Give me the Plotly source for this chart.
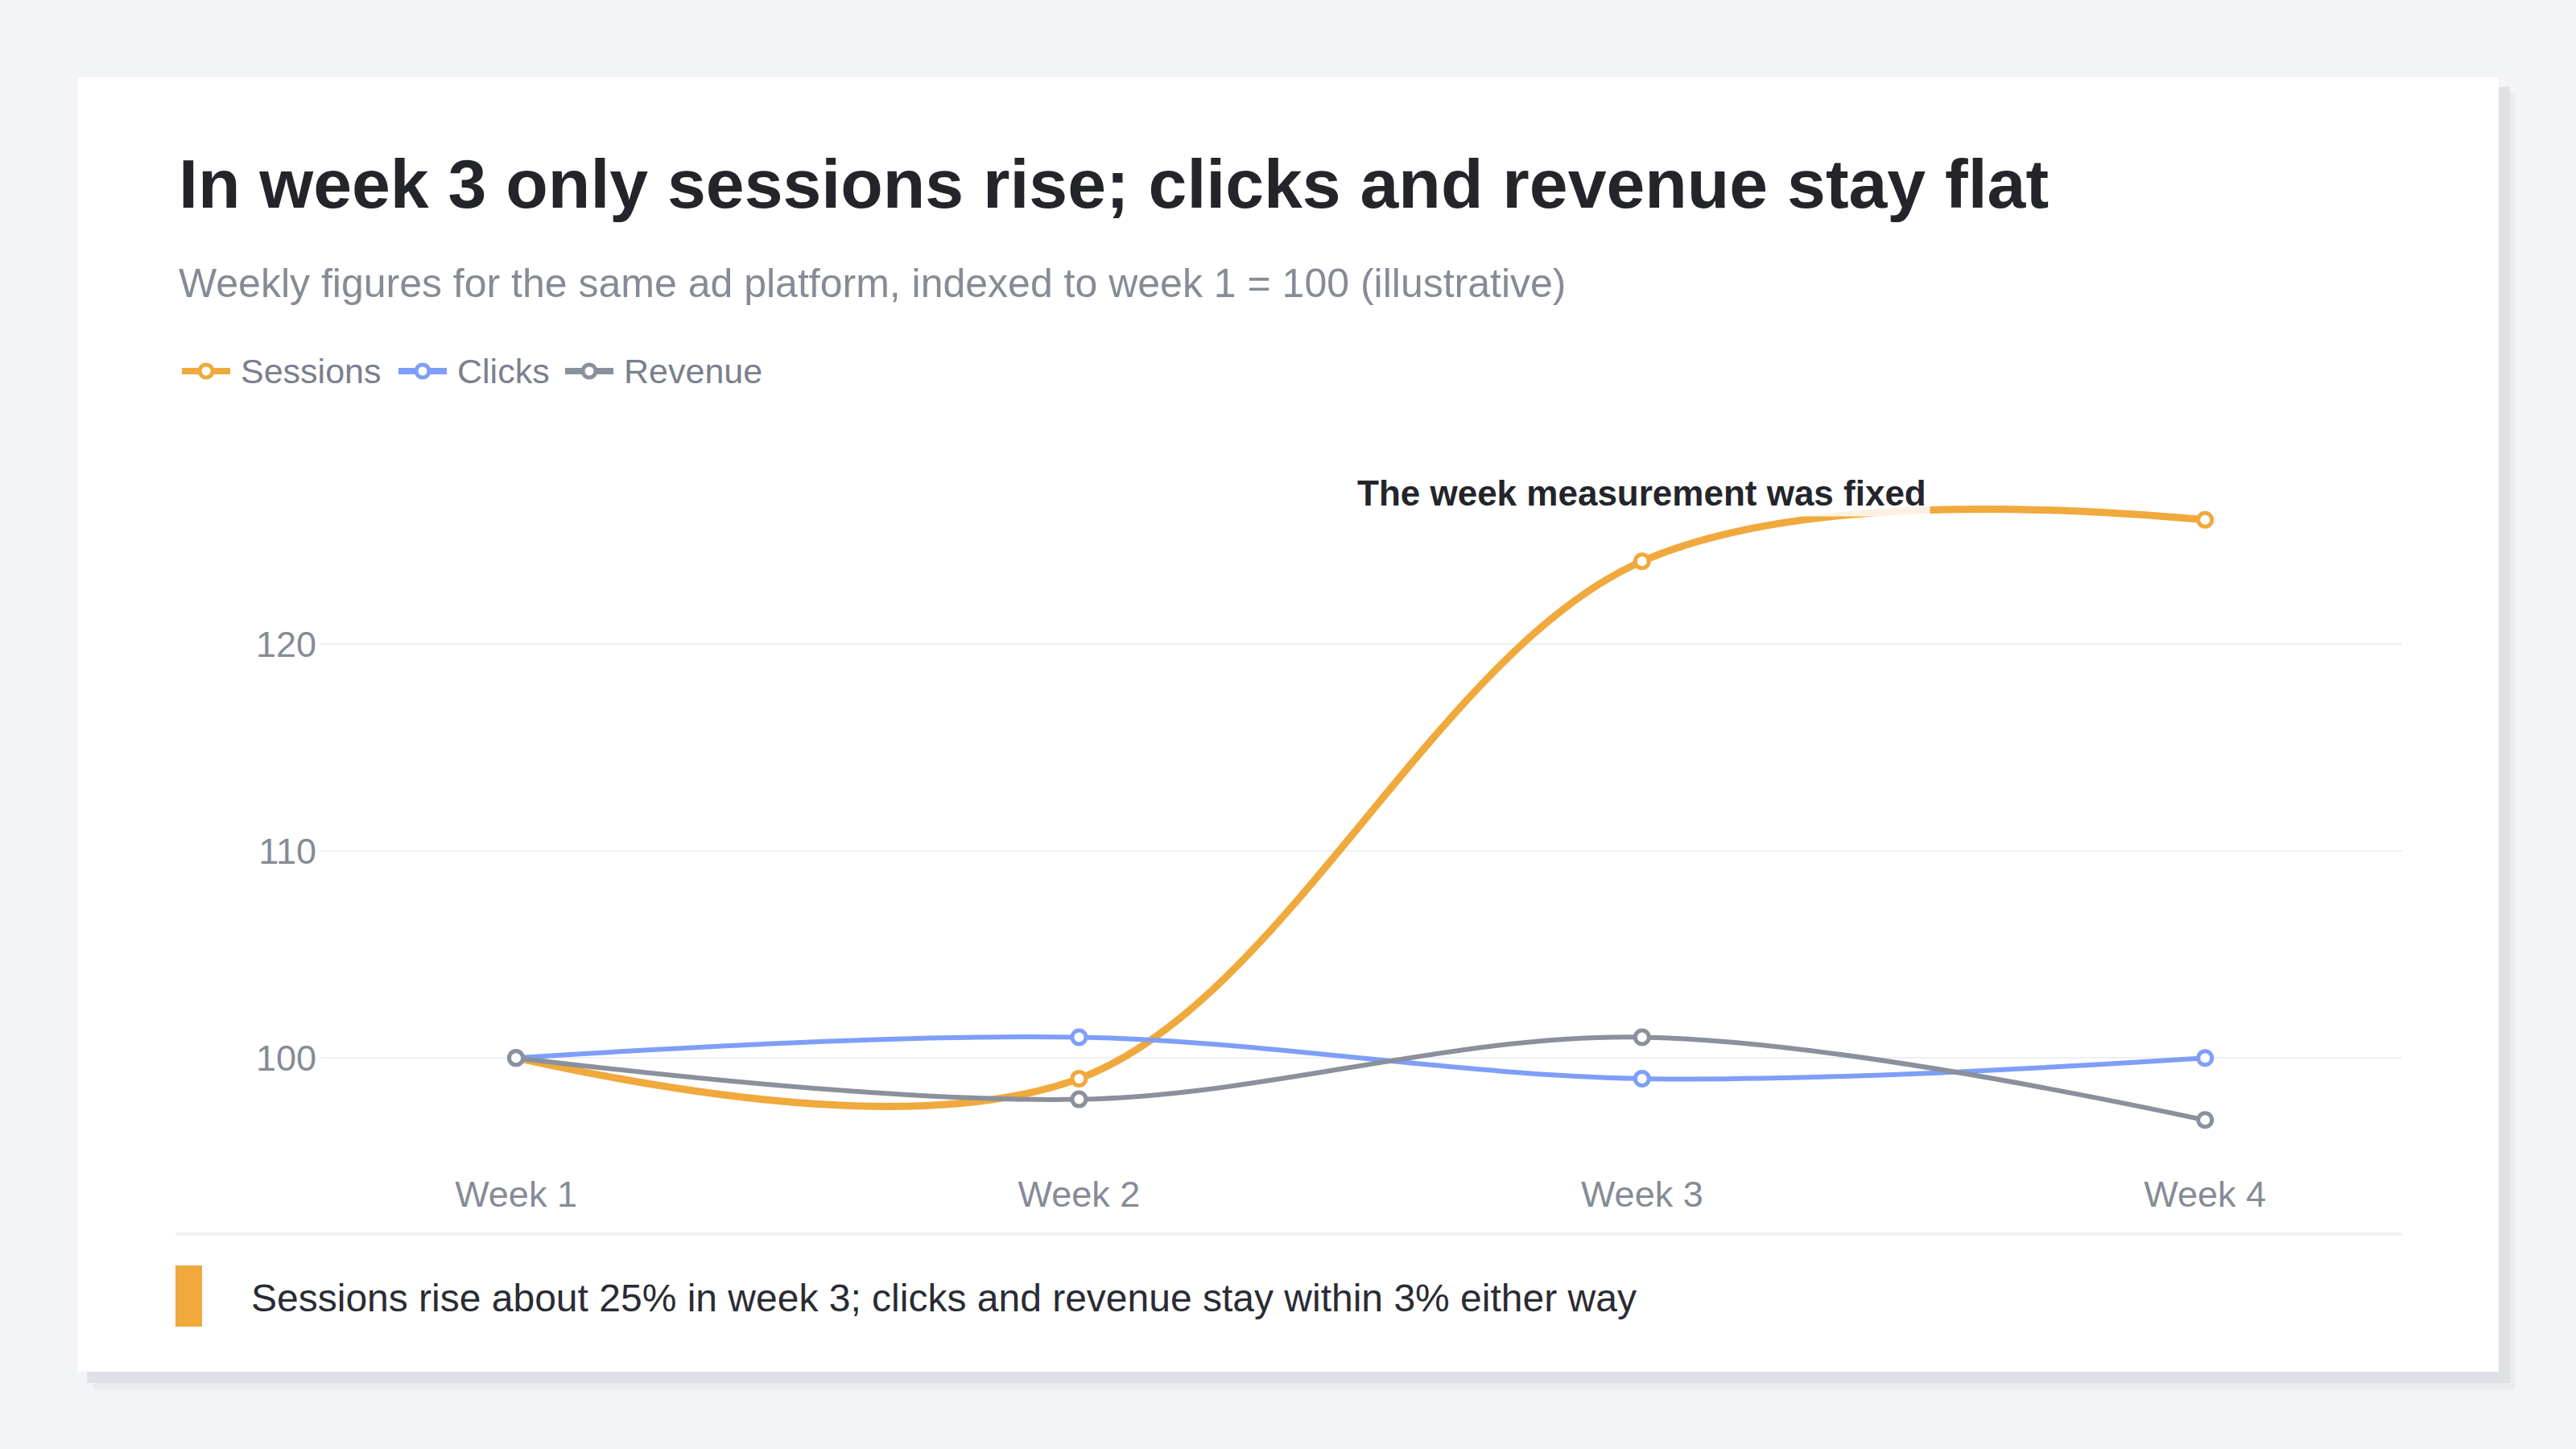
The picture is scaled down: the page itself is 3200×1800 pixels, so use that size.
import plotly.graph_objects as go

# Weekly index values (week 1 = 100)
weeks = ["Week 1", "Week 2", "Week 3", "Week 4"]
sessions = [100, 99, 124, 126]
clicks = [100, 101, 99, 100]
revenue = [100, 98, 101, 97]
y_ticks = [100, 110, 120]

title = "In week 3 only sessions rise; clicks and revenue stay flat"
subtitle = "Weekly figures for the same ad platform, indexed to week 1 = 100 (illustrative)"
note = "The week measurement was fixed"
footer = "Sessions rise about 25% in week 3; clicks and revenue stay within 3% either way"

ORANGE = "#f0a93c"
BLUE = "#7f9ef8"
GREY = "#8a909c"
FONT = "Liberation Sans, Arial, Helvetica, sans-serif"

# page geometry in pixels
W, H = 3200, 1800
ML, MR, MT, MB = 398, 216, 543, 347
PW = W - ML - MR
PH = H - MT - MB


def px(x):
    return (x - ML) / PW


def py(y):
    return (H - MB - y) / PH


series = [
    ("Sessions", sessions, ORANGE, 9),
    ("Clicks", clicks, BLUE, 6),
    ("Revenue", revenue, GREY, 6),
]

fig = go.Figure()
for name, vals, color, lw in series:
    fig.add_trace(go.Scatter(
        x=weeks, y=vals, name=name, mode="lines+markers",
        line=dict(color=color, width=lw, shape="spline", smoothing=1),
        marker=dict(size=17, color="white", line=dict(color=color, width=5)),
        showlegend=False,
    ))

# card, its shadow, footer rule and accent bar
shapes = [
    dict(type="rect", xref="paper", yref="paper", layer="below",
         x0=px(116), x1=px(3124), y0=py(116), y1=py(1726),
         fillcolor="#eaecf0", line_width=0),
    dict(type="rect", xref="paper", yref="paper", layer="below",
         x0=px(108), x1=px(3118), y0=py(108), y1=py(1718),
         fillcolor="#dfe1e7", line_width=0),
    dict(type="rect", xref="paper", yref="paper", layer="below",
         x0=px(96), x1=px(3104), y0=py(96), y1=py(1704),
         fillcolor="white", line_width=0),
    dict(type="line", xref="paper", yref="paper", layer="below",
         x0=px(218), x1=px(2984), y0=py(1533), y1=py(1533),
         line=dict(color="#eceef2", width=3)),
    dict(type="rect", xref="paper", yref="paper", layer="below",
         x0=px(218), x1=px(251), y0=py(1572), y1=py(1648),
         fillcolor=ORANGE, line_width=0),
]

annotations = [
    dict(text=title, xref="paper", yref="paper", x=px(220), y=py(228),
         xanchor="left", yanchor="middle", showarrow=False,
         font=dict(family=FONT, size=86, color="#23252b", weight="bold")),
    dict(text=subtitle, xref="paper", yref="paper", x=px(220), y=py(352),
         xanchor="left", yanchor="middle", showarrow=False,
         font=dict(family=FONT, size=50, color="#868b96")),
    dict(text=footer, xref="paper", yref="paper", x=px(310), y=py(1612),
         xanchor="left", yanchor="middle", showarrow=False,
         font=dict(family=FONT, size=48, color="#2a2c33")),
    dict(text=note, x=weeks[2], y=127.3, xref="x", yref="y",
         xanchor="center", yanchor="middle", showarrow=False,
         bgcolor="rgba(255,255,255,0.85)", borderpad=4,
         font=dict(family=FONT, size=44, color="#23252b", weight="bold")),
]

# legend drawn by hand: wide line + open circle, then the series name
legend_x = [226, 495, 702]
LEG_Y = 461
for (name, vals, color, lw), x0 in zip(series, legend_x):
    shapes.append(dict(type="line", xref="paper", yref="paper",
                       x0=px(x0), x1=px(x0 + 60), y0=py(LEG_Y), y1=py(LEG_Y),
                       line=dict(color=color, width=8)))
    cx = x0 + 30
    shapes.append(dict(type="circle", xref="paper", yref="paper",
                       x0=px(cx - 8), x1=px(cx + 8), y0=py(LEG_Y + 8), y1=py(LEG_Y - 8),
                       fillcolor="white", line=dict(color=color, width=5)))
    annotations.append(dict(text=name, xref="paper", yref="paper",
                            x=px(x0 + 71), y=py(LEG_Y), xanchor="left", yanchor="middle",
                            showarrow=False,
                            font=dict(family=FONT, size=43, color="#7a808c")))

fig.update_layout(
    width=W, height=H,
    margin=dict(l=ML, r=MR, t=MT, b=MB),
    paper_bgcolor="#f3f4f8",
    plot_bgcolor="white",
    font=dict(family=FONT, color="#868b96"),
    shapes=shapes,
    annotations=annotations,
    showlegend=False,
)

fig.update_xaxes(
    range=[-0.3475, 3.35], showgrid=False, zeroline=False, showline=False,
    ticks="", tickfont=dict(size=45, color="#868b96"), ticklabelstandoff=0,
)
fig.update_yaxes(
    range=[94.6, 130], tickvals=y_ticks, showgrid=True, gridcolor="#eff0f3",
    gridwidth=2, zeroline=False, showline=False, ticks="",
    tickfont=dict(size=45, color="#868b96"), ticklabelstandoff=4,
)

fig.write_html("out.html", config={"displayModeBar": False},
               post_script="document.body.style.margin = '0';")
